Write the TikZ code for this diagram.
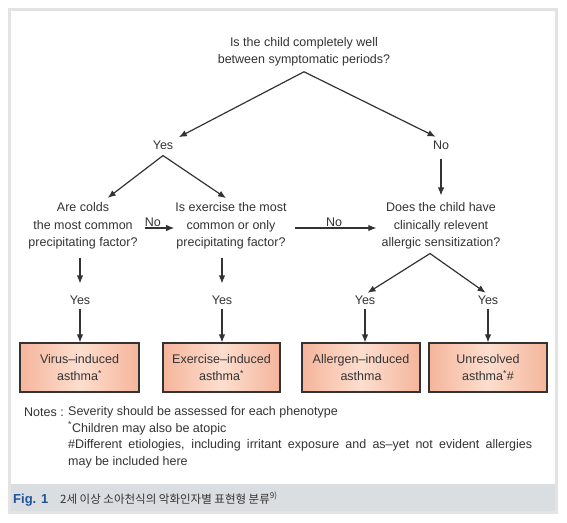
\documentclass[tikz,border=0pt]{standalone}
\usepackage{fontspec}
\setmainfont{Liberation Sans}
\newfontfamily\krfont{Noto Sans CJK KR}
\usetikzlibrary{arrows.meta}
\definecolor{ink}{rgb}{0.2,0.2,0.2}
\definecolor{salmon}{rgb}{0.96,0.71,0.61}
\definecolor{salmonlt}{rgb}{0.99,0.87,0.81}
\definecolor{framegray}{rgb}{0.89,0.89,0.89}
\definecolor{bandgray}{rgb}{0.86,0.87,0.88}
\definecolor{figblue}{rgb}{0.12,0.33,0.6}

\begin{document}
\begin{tikzpicture}[x=1pt,y=-1pt,
		txt/.style={font=\fontsize{12.5}{17.5}\selectfont, text=ink, align=center, inner sep=1pt},
		pheno/.style={txt, draw=ink, line width=1.1pt, left color=salmon, right color=salmon, middle color=salmonlt, minimum height=49pt},
		arr/.style={draw=ink, line width=1.2pt, -{Latex[length=8pt,width=6.5pt]}}]
			\useasboundingbox (0,0) rectangle (567,522);
			\fill[bandgray] (8,484) rectangle (558,514);
			\draw[framegray, line width=3pt] (9.5,9.5) rectangle (556.5,512.5);
			\node[txt] (well) at (304,52) {Is the child completely well\\between symptomatic periods?};
			\node[txt] (yes1) at (163,145) {Yes};
			\node[txt] (no1) at (441,145) {No};
			\node[txt] (colds) at (83,226) {Are colds\\the most common\\precipitating factor?};
			\node[txt] (exer) at (231,226) {Is exercise the most\\common or only\\precipitating factor?};
			\node[txt] (allerg) at (441,226) {Does the child have\\clinically relevent\\allergic sensitization?};
			\node[txt] (yesA) at (80,300) {Yes};
			\node[txt] (yesB) at (222,300) {Yes};
			\node[txt] (yesC) at (365,300) {Yes};
			\node[txt] (yesD) at (488,300) {Yes};
			\node[pheno, minimum width=119pt] (virus) at (79.5,367.5) {Virus–induced\\asthma\textsuperscript{*}};
			\node[pheno, minimum width=117pt] (exind) at (221.5,367.5) {Exercise–induced\\asthma\textsuperscript{*}};
			\node[pheno, minimum width=118pt] (alind) at (361,367.5) {Allergen–induced\\asthma};
			\node[pheno, minimum width=118pt] (unres) at (488,367.5) {Unresolved\\asthma\textsuperscript{*}\#};
			\coordinate (split1) at ([yshift=-4pt]well.south);
			\coordinate (split2) at ([yshift=-5pt]yes1.south);
			\coordinate (split3) at ([xshift=-11pt,yshift=-3pt]allerg.south);
			\draw[arr, shorten >=5pt] (split1) -- (yes1.north east);
			\draw[arr, shorten >=6pt] (split1) -- (no1.north);
			\draw[arr, shorten >=6pt] (split2) -- ([xshift=20pt]colds.north);
			\draw[arr, shorten >=6pt] (split2) -- (exer.north);
			\draw[arr, shorten <=8pt, shorten >=6pt] (no1.south) -- (allerg.north);
			\draw[arr, shorten <=6pt] ([yshift=-2pt]colds.east) -- node[txt, above, pos=0.4] (no2) {No} ([yshift=-2pt]exer.west);
			\draw[arr, shorten <=7pt, shorten >=4pt] ([yshift=-2pt]exer.east) -- node[txt, above] (no3) {No} ([yshift=-2pt]allerg.west);
			\draw[arr, shorten >=3pt] (split3) -- (yesC.north);
			\draw[arr, shorten >=3pt] (split3) -- (yesD.north);
			\draw[arr, shorten <=7pt, shorten >=11pt] (colds.south -| yesA.north) -- (yesA.north);
			\draw[arr, shorten <=7pt, shorten >=11pt] (exer.south -| yesB.north) -- (yesB.north);
			\foreach \y/\b in {yesA/virus, yesB/exind, yesC/alind, yesD/unres}
				\draw[arr, shorten <=3pt] (\y.south) -- (\y.south |- \b.north);
			\node[anchor=north west, inner sep=0pt, text=ink, font=\fontsize{12.5}{16.5}\selectfont] (notelbl) at (24,408) {Notes :};
			\node[anchor=north west, inner sep=0pt, text=ink, text width=464pt, align=justify, font=\fontsize{12.5}{16.8}\selectfont] (notes) at (68,406)
				{Severity should be assessed for each phenotype\\
				\textsuperscript{*}Children may also be atopic\\
				\#Different etiologies, including irritant exposure and as–yet not evident allergies\linebreak
				may be included here};
			\node[anchor=base west, inner sep=0pt, text=figblue, font=\fontsize{13}{14}\selectfont\bfseries] (fig) at (13,503) {Fig. 1};
			\node[anchor=base west, inner sep=0pt, text=ink, font=\fontsize{11.5}{13}\krfont] (cap) at (60,503) {2세 이상 소아천식의 악화인자별 표현형 분류\textsuperscript{9)}};
		\end{tikzpicture}
\end{document}
